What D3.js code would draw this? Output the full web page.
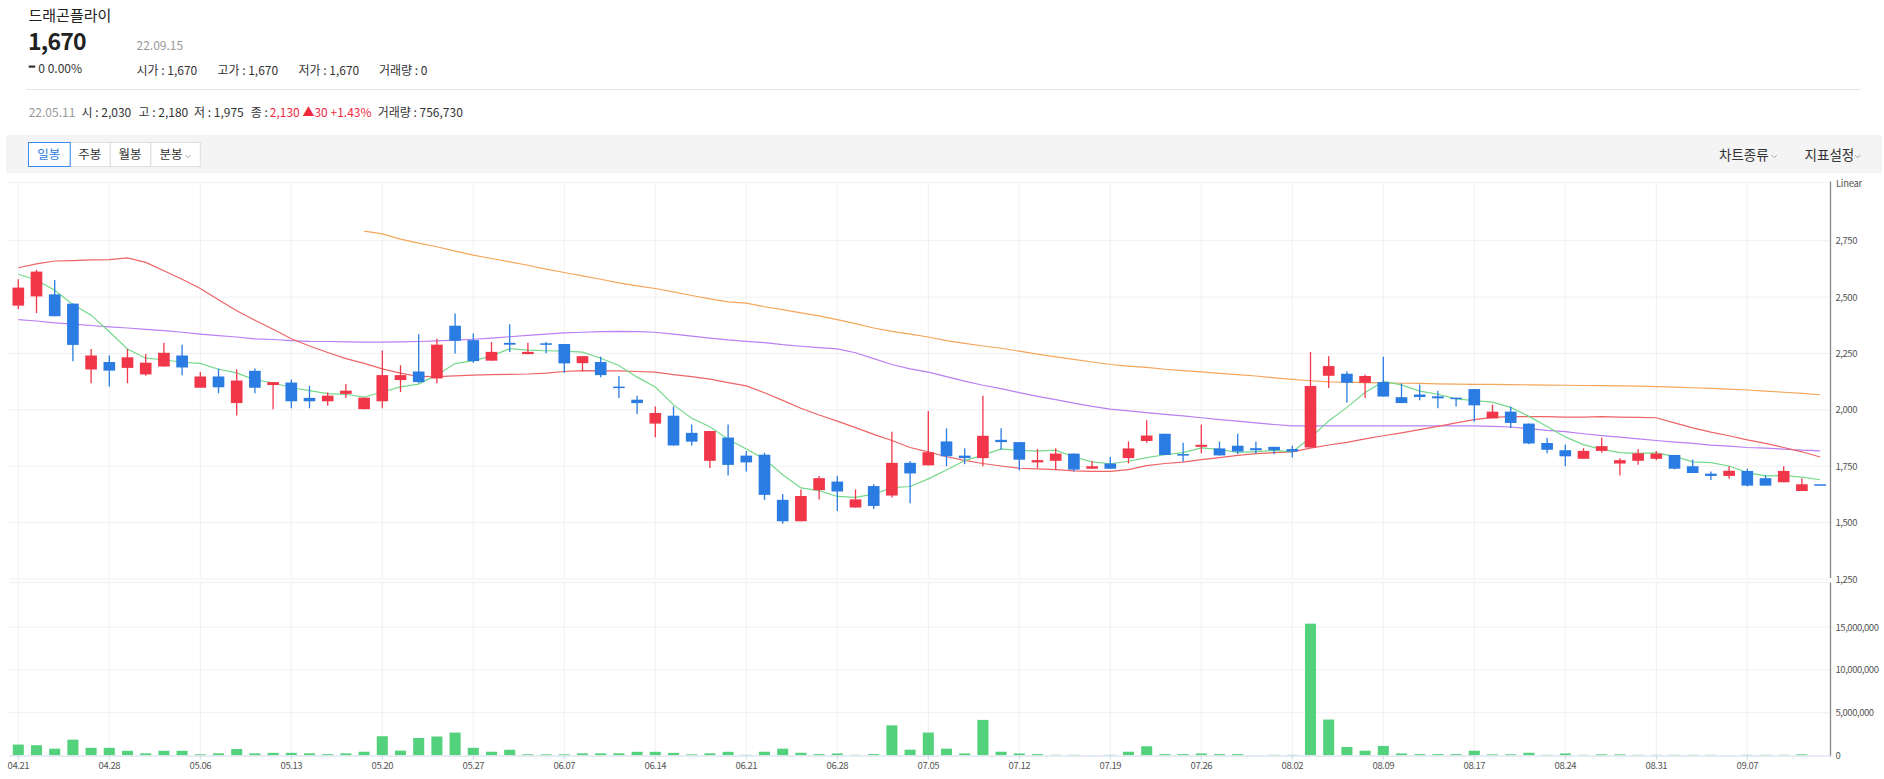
<!DOCTYPE html>
<html><head><meta charset="utf-8">
<script src="https://cdn.jsdelivr.net/npm/d3@7"></script>
<style>
body{margin:0;background:#fff;}
svg text{font-family:"Noto Sans CJK KR","Noto Sans",sans-serif;}
</style>
</head><body>
<svg id="c" width="1884" height="779"></svg>
<script>
// ---------------- DATA ----------------
const dates = ["04.21","04.22","04.25","04.26","04.27","04.28","04.29",
"05.02","05.03","05.04","05.06","05.09","05.10","05.11","05.12","05.13","05.16","05.17","05.18","05.19","05.20","05.23","05.24","05.25","05.26","05.27","05.30","05.31",
"06.02","06.03","06.07","06.08","06.09","06.10","06.13","06.14","06.15","06.16","06.17","06.20","06.21","06.22","06.23","06.24","06.27","06.28","06.29","06.30",
"07.01","07.04","07.05","07.06","07.07","07.08","07.11","07.12","07.13","07.14","07.15","07.18","07.19","07.20","07.21","07.22","07.25","07.26","07.27","07.28","07.29",
"08.01","08.02","08.03","08.04","08.05","08.08","08.09","08.10","08.11","08.12","08.16","08.17","08.18","08.19","08.22","08.23","08.24","08.25","08.26","08.29","08.30","08.31",
"09.01","09.02","09.05","09.06","09.07","09.08","09.13","09.14","09.15"];

const opens = [2462,2503,2512,2471,2179,2212,2186,2157,2192,2241,2098,2148,2030,2173,2110,2121,2053,2038,2071,2003,
2038,2132,2170,2139,2373,2309,2218,2297,2247,2295,2292,2207,2212,2103,2045,1939,1974,1898,1774,1877,
1797,1801,1601,1506,1644,1682,1567,1662,1620,1765,1754,1860,1797,1786,1867,1857,1767,1774,1806,1739,
1762,1786,1862,1894,1804,1836,1829,1841,1830,1836,1826,1833,2151,2160,2120,2123,2056,2068,2060,2054,
2092,1962,1992,1939,1853,1821,1783,1818,1762,1774,1783,1800,1750,1717,1707,1729,1697,1679,1640,1670];
const highs = [2579,2621,2576,2471,2270,2241,2270,2248,2298,2289,2168,2182,2180,2183,2123,2135,2107,2077,2115,2054,
2263,2198,2335,2315,2427,2338,2301,2379,2298,2301,2292,2238,2235,2150,2063,2015,2015,1935,1906,1935,
1818,1810,1627,1647,1707,1707,1647,1670,1903,1773,1995,1918,1830,2063,1918,1857,1826,1830,1806,1773,
1791,1860,1954,1894,1854,1935,1859,1894,1859,1836,1841,2257,2238,2170,2156,2235,2117,2112,2085,2054,
2092,2023,2015,1939,1876,1845,1830,1876,1785,1826,1818,1800,1780,1727,1750,1739,1710,1750,1697,1670];
const lows = [2447,2429,2415,2215,2118,2103,2118,2151,2192,2153,2098,2074,1975,2074,2003,2007,2007,2018,2053,2003,
2007,2079,2118,2118,2250,2209,2218,2257,2247,2251,2163,2171,2144,2053,1982,1879,1842,1842,1742,1709,
1727,1601,1495,1506,1603,1551,1567,1560,1611,1586,1754,1750,1759,1750,1823,1732,1742,1735,1727,1739,
1739,1762,1854,1800,1770,1807,1798,1804,1806,1803,1789,1833,2097,2033,2053,2059,2030,2042,2007,2015,
1947,1962,1920,1847,1807,1750,1783,1810,1709,1757,1776,1736,1720,1689,1695,1660,1664,1679,1640,1670];
const closes = [2542,2613,2415,2288,2241,2174,2233,2209,2253,2188,2148,2100,2130,2098,2123,2038,2038,2063,2085,2054,
2154,2154,2123,2289,2306,2216,2257,2289,2257,2289,2206,2238,2154,2097,2030,1986,1842,1859,1906,1756,
1767,1623,1506,1618,1697,1638,1603,1574,1765,1718,1812,1794,1786,1885,1857,1779,1777,1806,1735,1750,
1739,1829,1886,1800,1797,1845,1798,1815,1821,1821,1815,2106,2194,2120,2150,2059,2030,2057,2051,2048,
2020,1992,1942,1851,1823,1794,1818,1839,1777,1807,1806,1739,1720,1707,1730,1664,1664,1729,1670,1670];
const volumes = [1280000,1200000,800000,1850000,900000,900000,550000,250000,550000,550000,140000,250000,756730,250000,310000,310000,250000,160000,250000,440000,
2250000,570000,2050000,2220000,2680000,900000,440000,670000,140000,140000,140000,250000,250000,250000,430000,430000,310000,140000,250000,430000,
80000,440000,800000,320000,160000,240000,80000,160000,3520000,680000,2680000,800000,240000,4160000,440000,240000,160000,80000,80000,40000,
80000,440000,1080000,160000,160000,240000,160000,160000,40000,80000,80000,15400000,4200000,1000000,560000,1120000,240000,160000,160000,160000,
560000,140000,140000,320000,80000,240000,80000,140000,140000,80000,80000,80000,80000,80000,40000,80000,80000,80000,140000,0];

const ma5 = [2601,2576,2530,2467,2420,2346,2270,2229,2222,2211,2206,2180,2164,2133,2120,2098,2085,2072,2069,2056,
2079,2102,2114,2155,2205,2218,2238,2271,2265,2262,2260,2256,2229,2197,2145,2101,2022,1963,1925,1870,
1826,1782,1712,1654,1642,1616,1612,1626,1655,1660,1694,1733,1775,1799,1827,1820,1817,1821,1791,1769,
1761,1772,1788,1801,1810,1831,1825,1811,1815,1820,1814,1876,1951,2011,2077,2126,2111,2083,2069,2049,
2041,2034,2011,1971,1926,1880,1846,1825,1810,1807,1809,1794,1769,1766,1751,1722,1707,1709,1702,1690];
const ma20 = [2630,2647,2660,2662,2665,2666,2674,2654,2617,2579,2538,2488,2439,2397,2357,2315,2283,2254,2227,2206,
2182,2163,2148,2147,2151,2154,2156,2157,2159,2163,2170,2174,2173,2173,2170,2167,2156,2147,2136,2121,
2106,2076,2042,2007,1977,1950,1921,1891,1864,1833,1814,1792,1776,1762,1751,1741,1738,1735,1729,1727,
1727,1735,1753,1762,1768,1779,1788,1798,1806,1810,1814,1830,1844,1856,1871,1885,1898,1912,1927,1942,
1957,1967,1970,1970,1970,1968,1968,1970,1968,1967,1965,1942,1920,1901,1885,1867,1851,1833,1814,1791];
const ma60 = [2400,2394,2386,2380,2374,2368,2363,2357,2351,2344,2336,2329,2323,2315,2312,2307,2304,2303,2301,2300,
2300,2301,2303,2306,2309,2313,2318,2324,2330,2336,2341,2344,2347,2348,2347,2344,2336,2327,2318,2310,
2304,2298,2289,2282,2276,2270,2253,2227,2201,2182,2167,2147,2127,2109,2094,2076,2060,2045,2030,2015,
2003,1995,1988,1980,1973,1965,1957,1950,1942,1935,1929,1929,1929,1929,1929,1929,1929,1929,1929,1929,
1929,1927,1924,1917,1909,1903,1894,1886,1879,1871,1864,1857,1851,1844,1839,1833,1830,1826,1821,1818];
const ma120 = [null,null,null,null,null,null,null,null,null,null,null,null,null,null,null,null,null,null,null,2792,
2780,2757,2739,2723,2704,2686,2671,2656,2641,2624,2609,2594,2579,2563,2550,2538,2523,2507,2492,2479,
2473,2457,2444,2430,2417,2400,2382,2363,2348,2336,2323,2307,2295,2283,2273,2260,2247,2235,2224,2212,
2201,2194,2188,2180,2174,2168,2162,2156,2150,2142,2135,2129,2124,2123,2121,2120,2118,2117,2115,2114,
2113,2113,2112,2111,2110,2109,2108,2107,2106,2105,2103,2101,2098,2095,2092,2088,2083,2078,2073,2067];

const xTicks = ["04.21","04.28","05.06","05.13","05.20","05.27","06.07","06.14","06.21","06.28","07.05","07.12","07.19","07.26","08.02","08.09","08.17","08.24","08.31","09.07"];
const priceTicks = [1250,1500,1750,2000,2250,2500,2750];
const volumeTicks = [0,5000000,10000000,15000000];
const maSeries = [
  {name:"MA120", values: ma120, color:"#f5a65a"},
  {name:"MA60",  values: ma60,  color:"#b97ff3"},
  {name:"MA20",  values: ma20,  color:"#ee6366"},
  {name:"MA5",   values: ma5,   color:"#74d98a"}
];

// ---------------- LAYOUT ----------------
const svg = d3.select("#c");
const plotL = 9.2, plotR = 1829.2, axisX = 1830.5;
const pTop = 182.5, pBot = 579, vTop = 582.6, vBot = 755.5;
const RED = "#f2364a", BLUE = "#2a7be2", VOL = "#53d17d";

const x = d3.scaleBand().domain(dates).range([plotL, plotR]);
const cx = i => x(dates[i]) + x.bandwidth()/2;
const bodyW = x.bandwidth()*0.64;
const yP = d3.scaleLinear().domain([1250, 3008]).range([pBot, pTop]);
const yV = d3.scaleLinear().domain([0, 20200000]).range([vBot, vTop]);

function txt(g, xx, yy, s, size, color, opts={}) {
  return g.append("text").attr("x", xx).attr("y", yy).text(s)
    .attr("font-size", size).attr("fill", color)
    .attr("font-weight", opts.weight || 400)
    .attr("text-anchor", opts.anchor || "start")
    .attr("letter-spacing", opts.ls || 0);
}

// ---------------- HEADER ----------------
const hd = svg.append("g");
txt(hd, 28.5, 21, "드래곤플라이", 15, "#222");
txt(hd, 28, 50, "1,670", 23, "#222", {weight:700, ls:-0.8});
txt(hd, 136.5, 49.5, "22.09.15", 12, "#999");
hd.append("rect").attr("x", 28.7).attr("y", 65.5).attr("width", 6.5).attr("height", 2.2).attr("fill", "#333");
txt(hd, 38.3, 72.7, "0 0.00%", 12, "#333");
txt(hd, 136.5, 75, "시가 : 1,670", 12, "#333");
txt(hd, 217.4, 75, "고가 : 1,670", 12, "#333");
txt(hd, 298.5, 75, "저가 : 1,670", 12, "#333");
txt(hd, 378.9, 75, "거래량 : 0", 12, "#333");
hd.append("line").attr("x1", 26).attr("x2", 1860).attr("y1", 89.5).attr("y2", 89.5).attr("stroke", "#e3e3e3");
txt(hd, 28.7, 116.7, "22.05.11", 12, "#999");
txt(hd, 81.5, 116.7, "시 : 2,030", 12, "#333");
txt(hd, 138.5, 116.7, "고 : 2,180", 12, "#333");
txt(hd, 194, 116.7, "저 : 1,975", 12, "#333");
txt(hd, 250.7, 116.7, "종 : ", 12, "#333");
txt(hd, 269.8, 116.7, "2,130 ▲30 +1.43%", 12, "#f0293e");
txt(hd, 377.7, 116.7, "거래량 : 756,730", 12, "#333");

// ---------------- TOOLBAR ----------------
const tb = svg.append("g");
tb.append("rect").attr("x", 6).attr("y", 135).attr("width", 1876).attr("height", 38.3).attr("fill", "#f4f4f4");
const btns = [{t:"일봉", x0:28, x1:69.7, on:true},{t:"주봉", x0:69.7, x1:109.8},{t:"월봉", x0:109.8, x1:150.4},{t:"분봉", x0:150.4, x1:199.8, chev:true}];
btns.filter(b=>!b.on).concat(btns.filter(b=>b.on)).forEach(b => {
  tb.append("rect").attr("x", b.x0+0.5).attr("y", 142.5).attr("width", b.x1-b.x0).attr("height", 24)
    .attr("fill", "#fff").attr("stroke", b.on ? "#3a8bf0" : "#dedede").attr("stroke-width", 1);
  const tx = b.chev ? (b.x0 + b.x1)/2 - 4 : (b.x0 + b.x1)/2;
  txt(tb, tx, 159, b.t, 12.5, b.on ? "#2b7be2" : "#333", {anchor:"middle"});
  if (b.chev) tb.append("path").attr("d", `M${b.x1-14.5},155 l2.7,2.7 l2.7,-2.7`).attr("fill","none").attr("stroke","#999").attr("stroke-width",0.9);
});
txt(tb, 1719, 160, "차트종류", 13.5, "#333");
tb.append("path").attr("d", "M1771.5,155 l2.7,2.7 l2.7,-2.7").attr("fill","none").attr("stroke","#999").attr("stroke-width",0.9);
txt(tb, 1804.6, 160, "지표설정", 13.5, "#333");
tb.append("path").attr("d", "M1855,155 l2.7,2.7 l2.7,-2.7").attr("fill","none").attr("stroke","#999").attr("stroke-width",0.9);

// ---------------- GRID ----------------
const grid = svg.append("g");
const gridX = xTicks.map(d => x(d) + x.bandwidth()/2);
gridX.forEach(gx => {
  grid.append("line").attr("x1", gx).attr("x2", gx).attr("y1", pTop).attr("y2", pBot).attr("stroke", "#f0f1f4");
  grid.append("line").attr("x1", gx).attr("x2", gx).attr("y1", vTop).attr("y2", vBot).attr("stroke", "#f0f1f4");
});
[pTop].concat(priceTicks.map(v => yP(v))).forEach(gy => {
  grid.append("line").attr("x1", plotL).attr("x2", axisX).attr("y1", gy).attr("y2", gy).attr("stroke", "#f0f0f0");
});
[vTop].concat(volumeTicks.slice(1).map(v => yV(v))).forEach(gy => {
  grid.append("line").attr("x1", plotL).attr("x2", axisX).attr("y1", gy).attr("y2", gy).attr("stroke", "#f0f0f0");
});

// ---------------- CLIPS ----------------
const defs = svg.append("defs");
defs.append("clipPath").attr("id", "pclip").append("rect").attr("x", plotL).attr("y", pTop).attr("width", axisX - plotL).attr("height", pBot - pTop);
defs.append("clipPath").attr("id", "vclip").append("rect").attr("x", plotL).attr("y", vTop).attr("width", axisX - plotL).attr("height", vBot - vTop);

// ---------------- MOVING AVERAGES ----------------
const pg = svg.append("g").attr("clip-path", "url(#pclip)");
const line = d3.line().defined(d => d != null).x((d, i) => cx(i)).y(d => yP(d));
maSeries.forEach(s => {
  pg.append("path").datum(s.values).attr("d", line).attr("fill", "none")
    .attr("stroke", s.color).attr("stroke-width", 1.2);
});

// ---------------- CANDLES ----------------
const candles = pg.selectAll("g.c").data(dates.map((d, i) => i)).join("g").attr("class", "c");
candles.append("line")
  .attr("x1", i => cx(i)).attr("x2", i => cx(i))
  .attr("y1", i => yP(highs[i])).attr("y2", i => yP(lows[i]))
  .attr("stroke", i => closes[i] >= opens[i] ? RED : BLUE).attr("stroke-width", 1.3);
candles.append("rect")
  .attr("x", i => cx(i) - bodyW/2).attr("width", bodyW)
  .attr("y", i => yP(Math.max(opens[i], closes[i])))
  .attr("height", i => Math.max(1.5, Math.abs(yP(opens[i]) - yP(closes[i]))))
  .attr("fill", i => closes[i] >= opens[i] ? (i === 99 ? BLUE : RED) : BLUE);

// ---------------- VOLUME ----------------
const vg = svg.append("g").attr("clip-path", "url(#vclip)");
vg.selectAll("rect").data(volumes).join("rect")
  .attr("x", (d, i) => cx(i) - bodyW/2 + 0.3).attr("width", bodyW - 0.6)
  .attr("y", d => yV(d)).attr("height", d => vBot - yV(d))
  .attr("fill", VOL);

// ---------------- AXES ----------------
const ax = svg.append("g");
const styleTicks = sel => sel.selectAll("text").attr("font-size", 9.5).attr("fill", "#555")
  .attr("font-family", "Noto Sans CJK KR").attr("letter-spacing", -0.45);
// price axis
const pAxis = ax.append("g").attr("transform", `translate(${axisX},0)`)
  .call(d3.axisRight(yP).tickValues(priceTicks).tickSize(0).tickPadding(5).tickFormat(d3.format(",")));
pAxis.select(".domain").remove();
styleTicks(pAxis);
ax.append("line").attr("x1", axisX).attr("x2", axisX).attr("y1", pTop - 1).attr("y2", pBot - 1).attr("stroke", "#888").attr("stroke-width", 1.3);
txt(ax, 1836, 186.5, "Linear", 9.5, "#555", {ls:-0.3});
// volume axis
const vAxis = ax.append("g").attr("transform", `translate(${axisX},0)`)
  .call(d3.axisRight(yV).tickValues(volumeTicks).tickSize(0).tickPadding(5).tickFormat(d3.format(",")));
vAxis.select(".domain").remove();
styleTicks(vAxis);
ax.append("line").attr("x1", axisX).attr("x2", axisX).attr("y1", vTop).attr("y2", vBot + 1).attr("stroke", "#888").attr("stroke-width", 1.3);
// x axis
const xAxis = ax.append("g").attr("transform", `translate(0,${vBot})`)
  .call(d3.axisBottom(x).tickValues(xTicks).tickSize(4).tickPadding(3).tickSizeOuter(0));
xAxis.select(".domain").attr("d", `M${plotL},0.5H${axisX}`).attr("stroke", "#dfe5ef").attr("stroke-width", 1.5);
xAxis.selectAll(".tick line").attr("stroke", "#c9d4e6");
styleTicks(xAxis);
</script>
</body></html>
